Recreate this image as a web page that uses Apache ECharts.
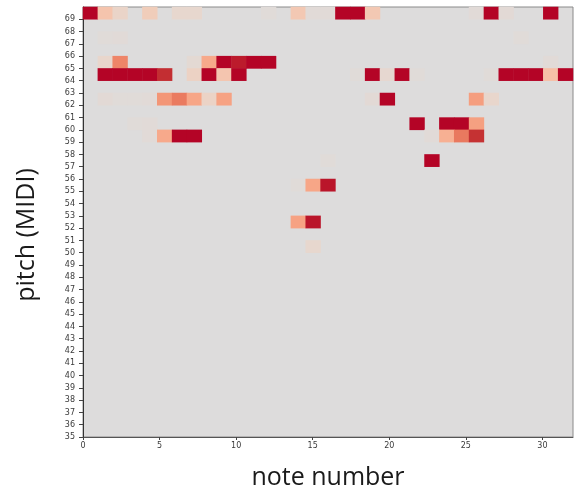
<!DOCTYPE html>
<html>
<head>
<meta charset="utf-8">
<script src="https://cdn.jsdelivr.net/npm/echarts@6/dist/echarts.min.js"></script>
<style>html,body{margin:0;padding:0;background:#fff}#c{width:579px;height:495px}</style>
</head>
<body>
<div id="c"></div>
<script>
// ---- data ----
const noteNumbers = [0,1,2,3,4,5,6,7,8,9,10,11,12,13,14,15,16,17,18,19,20,21,22,23,24,25,26,27,28,29,30,31,32];
const pitches = [35,36,37,38,39,40,41,42,43,44,45,46,47,48,49,50,51,52,53,54,55,56,57,58,59,60,61,62,63,64,65,66,67,68,69];
const noteTicks = [0,5,10,15,20,25,30];
const pitchTicks = [35,36,37,38,39,40,41,42,43,44,45,46,47,48,49,50,51,52,53,54,55,56,57,58,59,60,61,62,63,64,65,66,67,68,69];
// [note, pitch, probability]
const row69 = [[0,69,1.0],[1,69,0.25],[2,69,0.11],[4,69,0.18],[6,69,0.08],[7,69,0.08],[12,69,0.02],[14,69,0.22],[15,69,0.03],[16,69,0.03],[17,69,1.0],[18,69,1.0],[19,69,0.22],[26,69,0.03],[27,69,1.0],[28,69,0.04],[31,69,1.0]];
const row67 = [[1,67,0.02],[2,67,0.03],[29,67,0.02]];
const row65 = [[1,65,0.09],[2,65,0.6],[7,65,0.05],[8,65,0.42],[9,65,1.0],[10,65,0.96],[11,65,1.0],[12,65,1.0],[31,65,0.03]];
const row64 = [[1,64,1.0],[2,64,1.0],[3,64,1.0],[4,64,1.0],[5,64,0.92],[7,64,0.13],[8,64,1.0],[9,64,0.24],[10,64,1.0],[18,64,0.02],[19,64,1.0],[20,64,0.07],[21,64,1.0],[22,64,0.02],[27,64,0.02],[28,64,1.0],[29,64,1.0],[30,64,1.0],[31,64,0.28],[32,64,1.0]];
const row62 = [[1,62,0.04],[2,62,0.02],[3,62,0.02],[4,62,0.03],[5,62,0.52],[6,62,0.64],[7,62,0.44],[8,62,0.12],[9,62,0.46],[19,62,0.04],[20,62,1.0],[26,62,0.48],[27,62,0.09]];
const row60 = [[3,60,0.02],[4,60,0.03],[22,60,1.0],[24,60,1.0],[25,60,1.0],[26,60,0.47]];
const row59 = [[4,59,0.03],[5,59,0.42],[6,59,1.0],[7,59,1.0],[23,59,0.03],[24,59,0.38],[25,59,0.65],[26,59,0.91]];
const row57 = [[16,57,0.02],[23,57,1.0]];
const row55 = [[14,55,0.02],[15,55,0.44],[16,55,0.97]];
const row52 = [[14,52,0.46],[15,52,0.97]];
const row50 = [[15,50,0.08]];
// upper half of the coolwarm colour map
const colorStops = ['#dddcdc','#e5d8d1','#ecd3c5','#f1ccb9','#f5c4ad','#f7bba0','#f7b194','#f7a687','#f49a7b','#f18d6f','#ec7f63','#e57058','#de604d','#d55042','#cb3e38','#c0282f','#b40426'];

const cells = [].concat(row69,row67,row65,row64,row62,row60,row59,row57,row55,row52,row50);

const chart = echarts.init(document.getElementById('c'), null, {renderer:'canvas'});
const tickFont = {fontFamily:'DejaVu Sans', fontSize:8, color:'#3a3a3a'};
chart.setOption({
  animation:false,
  backgroundColor:'#ffffff',
  grid:{left:83, right:6, top:7, bottom:56, show:true, backgroundColor:'#dddcdc', borderColor:'#8a8a8a', borderWidth:1},
  xAxis:[
    {type:'category', data:noteNumbers.map(String), show:false, gridIndex:0},
    {type:'value', min:0, max:32, interval:5, position:'bottom', gridIndex:0,
     name:'note number', nameLocation:'middle', nameGap:28,
     nameTextStyle:{fontFamily:'Open Sans', fontSize:25, color:'#1a1a1a'},
     axisLine:{show:true, lineStyle:{color:'#555', width:1}},
     axisTick:{show:true, length:3, lineStyle:{color:'#444'}, customValues:noteTicks},
     axisLabel:Object.assign({margin:5, customValues:noteTicks, formatter:v => noteTicks.indexOf(v) >= 0 ? String(v) : ''}, tickFont),
     splitLine:{show:false}}
  ],
  yAxis:[
    {type:'category', data:pitches.map(String), show:false, gridIndex:0},
    {type:'value', min:35, max:70, interval:1, position:'left', gridIndex:0,
     name:'pitch (MIDI)', nameLocation:'middle', nameGap:44,
     nameTextStyle:{fontFamily:'Open Sans', fontSize:25, color:'#1a1a1a', padding:[0,26,0,0]},
     axisLine:{show:true, lineStyle:{color:'#333', width:1}},
     axisTick:{show:true, length:4, lineStyle:{color:'#444'}, customValues:pitchTicks},
     axisLabel:Object.assign({margin:8, customValues:pitchTicks, formatter:v => pitchTicks.indexOf(v) >= 0 ? String(v) : ''}, tickFont),
     splitLine:{show:false}}
  ],
  visualMap:{show:false, type:'continuous', min:0, max:1, dimension:2, seriesIndex:0, inRange:{color:colorStops}},
  series:[{
    type:'heatmap', xAxisIndex:0, yAxisIndex:0,
    data:cells.map(c => [String(c[0]), String(c[1]), c[2]]),
    itemStyle:{borderWidth:0},
    emphasis:{disabled:true}
  }]
});
</script>
</body>
</html>
